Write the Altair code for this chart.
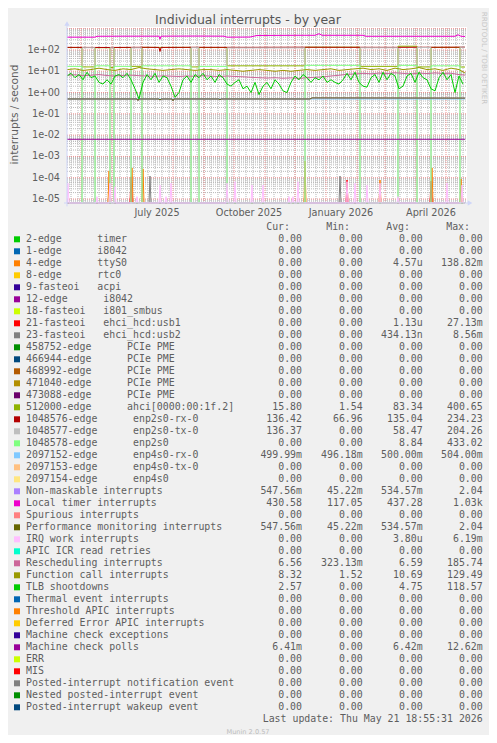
import altair as alt
import pandas as pd

# ---------------- frame / labels ----------------
START = pd.Timestamp("2025-04-17")          # left edge of the plot (day 0)
X_DOMAIN = [0, 400]                          # days
Y_DOMAIN = [6.5e-6, 1200]                    # interrupts / second (log)
TITLE = "Individual interrupts - by year"
Y_TITLE = "interrupts / second"
XLABEL_DATES = ["2025-07-16", "2025-10-16", "2026-01-16", "2026-04-16"]
XLABEL_TEXT = ["July 2025", "October 2025", "January 2026", "April 2026"]
YLABEL_VALUES = [1e-05, 1e-04, 1e-03, 1e-02, 1e-01, 1e+00, 1e+01, 1e+02]
YLABEL_TEXT = ["1e-05", "1e-04", "1e-03", "1e-02", "1e-01", "1e+00", "1e+01", "1e+02"]
LAST_UPDATE = "Last update: Thu May 21 18:55:31 2026"
MUNIN = "Munin 2.0.57"
RRD = "RRDTOOL / TOBI OETIKER"

# ---------------- series (day offset, value) ----------------
GRID4_DAYS = list(range(0, 400, 4))
TLB = [6, 8, 5, 7, 4, 9, 5, 6,
       3, 2.5, 4, 2.5, 6, 7, 5, 8,
       4, 1.5, 0.5, 3, 7, 4, 8, 3,
       6, 5, 2, 0.6, 1, 4, 6, 3,
       7, 5, 8, 4, 6, 3, 7, 5,
       2.5, 2, 3, 4, 1.5, 2, 1, 3,
       0.8, 2, 3, 1.5, 4, 2.5, 1.2, 1,
       3, 6, 4, 7, 5, 3, 5, 4,
       6, 3, 4, 3, 2.5, 4, 8, 4,
       9, 3, 2, 1.8, 5, 7, 3, 9,
       4, 8, 6, 1.5, 2, 6, 8, 3,
       9, 5, 4, 1.5, 1.2, 5, 9, 4,
       7, 1, 6, 2.5]

GRID8_DAYS = list(range(0, 393, 8)) + [398]
FUNC_CALL = [12, 13, 11, 12, 14, 12, 11, 13, 12, 15,
             13, 12, 11, 12, 13, 12, 11, 12, 12, 11,
             12, 11, 10, 11, 12, 11, 10, 11, 10, 11,
             12, 11, 12, 13, 11, 12, 13, 14, 12, 13,
             11, 14, 12, 13, 15, 12, 13, 11, 14, 12, 8.3]
RESCHED = [6.5, 6.8, 6.2, 6.5, 7.0, 6.3, 6.0, 6.4, 6.6, 6.2,
           6.0, 5.8, 6.1, 5.9, 5.7, 6.0, 5.8, 6.2, 5.9, 5.6,
           6.0, 5.7, 5.5, 5.2, 5.0, 4.8, 5.0, 4.7, 4.9, 4.6,
           5.0, 5.2, 5.5, 6.0, 6.5, 7.2, 7.5, 8.0, 7.6, 8.2,
           7.8, 8.5, 8.0, 7.5, 8.2, 7.8, 8.4, 7.9, 8.1, 7.0, 6.6]

LOCAL_TIMER_DAYS = [0, 28, 30, 60, 92, 93, 94, 130, 157, 160, 183, 190, 230, 248, 252, 255, 296, 299, 388, 391, 394, 398]
LOCAL_TIMER = [400, 400, 440, 445, 445, 320, 445, 450, 445, 400, 405, 480, 490, 490, 580, 490, 490, 440, 440, 520, 440, 430]

PERF_DAYS = [0, 70, 71, 72, 92, 93, 94, 105, 106, 107, 152, 153, 154, 243, 245, 398]
PERF = [0.5, 0.5, 0.42, 0.5, 0.5, 0.44, 0.5, 0.5, 0.41, 0.5, 0.5, 0.46, 0.5, 0.5, 0.56, 0.55]

ENP4_RX_DAYS = [0, 398]
ENP4_RX = [0.5, 0.5]
MC_POLLS_DAYS = [0, 398]
MC_POLLS = [0.0064, 0.0064]

RX_DAYS = [0, 40, 80, 92, 93, 94, 130, 180, 230, 280, 330, 380, 398]
RX = [133, 131, 134, 132, 85, 132, 134, 133, 135, 134, 133, 135, 136]

# link periods (square wave), level held over [start, next start]
PERIOD_START = [0, 15, 28, 43, 47, 64, 75, 124, 132, 160, 238, 293, 331, 350, 364, 393]
AHCI_LEVEL = [130, 16, 128, 15, 130, 17, 132, 16, 130, 18, 135, 17, 150, 16, 132, 15.8]
TX_LEVEL = [0, 128, 0, 127, 0, 126, 0, 128, 0, 125, 0, 127, 0, 130, 0, 136]
ENP2S0_LEVEL = [17, 0, 18, 0, 17, 0, 18, 0, 17, 0, 19, 0, 19, 0, 18, 0]

# short bursts near the bottom
IRQ_WORK_DAYS = [1, 30, 43, 48, 70, 93, 99, 104, 160, 168, 185, 196, 222, 226, 231, 280, 288, 300, 313, 331, 380, 395]
IRQ_WORK = [5.5e-5, 1.3e-5, 5.5e-5, 3.8e-5, 1.3e-5, 4.5e-5, 1.3e-5, 5.5e-5, 5.5e-5, 6.5e-5, 4.5e-5,
            4.5e-5, 1.3e-5, 1.3e-5, 6.5e-5, 6.5e-5, 5.5e-5, 4.5e-5, 5.5e-5, 1.3e-5, 5.5e-5, 4.5e-5]
TTYS0_DAYS = [42, 65, 76, 238, 313, 365, 394]
TTYS0 = [2.1e-4, 2.9e-4, 2.6e-4, 6.1e-4, 7.8e-5, 2.9e-4, 8.7e-5]
USB1_DAYS = [64, 280, 364]
USB1 = [1.1e-4, 7.8e-5, 7.0e-5]
USB2_DAYS = [83, 273]
USB2 = [1.2e-4, 1.2e-4]
END_DAY = 398

# ---------------- legend ----------------
NAMES = [
    "2-edge      timer", "1-edge      i8042", "4-edge      ttyS0", "8-edge      rtc0",
    "9-fasteoi   acpi", "12-edge      i8042", "18-fasteoi   i801_smbus",
    "21-fasteoi   ehci_hcd:usb1", "23-fasteoi   ehci_hcd:usb2",
    "458752-edge      PCIe PME", "466944-edge      PCIe PME", "468992-edge      PCIe PME",
    "471040-edge      PCIe PME", "473088-edge      PCIe PME", "512000-edge      ahci[0000:00:1f.2]",
    "1048576-edge      enp2s0-rx-0", "1048577-edge      enp2s0-tx-0", "1048578-edge      enp2s0",
    "2097152-edge      enp4s0-rx-0", "2097153-edge      enp4s0-tx-0", "2097154-edge      enp4s0",
    "Non-maskable interrupts", "Local timer interrupts", "Spurious interrupts",
    "Performance monitoring interrupts", "IRQ work interrupts", "APIC ICR read retries",
    "Rescheduling interrupts", "Function call interrupts", "TLB shootdowns",
    "Thermal event interrupts", "Threshold APIC interrupts", "Deferred Error APIC interrupts",
    "Machine check exceptions", "Machine check polls", "ERR", "MIS",
    "Posted-interrupt notification event", "Nested posted-interrupt event",
    "Posted-interrupt wakeup event",
]
COLORS = [
    "#00CC00", "#0066B3", "#FF8000", "#FFCC00", "#330099", "#990099", "#CCFF00", "#FF0000",
    "#808080", "#008F00", "#00487D", "#B35A00", "#B38F00", "#6B006B", "#8FB300", "#B30000",
    "#BEBEBE", "#80FF80", "#80C9FF", "#FFC080", "#FFE680", "#AA80FF", "#EE00CC", "#FF8080",
    "#666600", "#FFBFFF", "#00FFCC", "#CC6699", "#999900", "#00CC00", "#0066B3", "#FF8000",
    "#FFCC00", "#330099", "#990099", "#CCFF00", "#FF0000", "#808080", "#008F00", "#00487D",
]
Z = "0.00"
CUR = [Z, Z, Z, Z, Z, Z, Z, Z, Z, Z, Z, Z, Z, Z, "15.80", "136.42", "136.37", Z, "499.99m", Z,
       Z, "547.56m", "430.58", Z, "547.56m", Z, Z, "6.56", "8.32", "2.57", Z, Z, Z, Z, "6.41m",
       Z, Z, Z, Z, Z]
MIN = [Z, Z, Z, Z, Z, Z, Z, Z, Z, Z, Z, Z, Z, Z, "1.54", "66.96", Z, Z, "496.18m", Z,
       Z, "45.22m", "117.05", Z, "45.22m", Z, Z, "323.13m", "1.52", Z, Z, Z, Z, Z, Z,
       Z, Z, Z, Z, Z]
AVG = [Z, Z, "4.57u", Z, Z, Z, Z, "1.13u", "434.13n", Z, Z, Z, Z, Z, "83.34", "135.04", "58.47",
       "8.84", "500.00m", Z, Z, "534.57m", "437.28", Z, "534.57m", "3.80u", Z, "6.59", "10.69",
       "4.75", Z, Z, Z, Z, "6.42m", Z, Z, Z, Z, Z]
MAX = [Z, Z, "138.82m", Z, Z, Z, Z, "27.13m", "8.56m", Z, Z, Z, Z, Z, "400.65", "234.23",
       "204.26", "433.02", "504.00m", Z, Z, "2.04", "1.03k", Z, "2.04", "6.19m", Z, "185.74",
       "129.49", "118.57", Z, Z, Z, Z, "12.62m", Z, Z, Z, Z, Z]

# ---------------- styling ----------------
TXT = "#5E5E5E"
MONO = "DejaVu Sans Mono"
SANS = "DejaVu Sans"
NB = "\u00a0"

XS = alt.Scale(domain=X_DOMAIN, range=[59, 459], nice=False, zero=False)
YS = alt.Scale(type="log", domain=Y_DOMAIN, range=[195, 19], nice=False, clamp=True)
YS_FREE = alt.Scale(type="log", domain=Y_DOMAIN, range=[195, 19], nice=False)
RS = alt.Scale(domain=[0, 39], range=[231.3, 699.3], nice=False, zero=False)


def day_of(s):
    return (pd.Timestamp(s) - START).days


def line_df(days, vals):
    return pd.DataFrame({"d": list(days), "v": list(vals), "seq": list(range(len(days)))})


def step_df(starts, levels, end_day):
    ends = list(starts[1:]) + [end_day]
    d, v = [], []
    for s, e, lv in zip(starts, ends, levels):
        d += [s, e]
        v += [lv, lv]
    return line_df(d, v)


def spike_df(days, vals, end_day):
    d, v = [0], [0]
    for dd, vv in zip(days, vals):
        d += [max(dd - 1, 0), dd, dd + 1]
        v += [0, vv, 0]
    d.append(end_day)
    v.append(0)
    return line_df(d, v)


def series_layer(df, color):
    return alt.Chart(df).transform_calculate(
        vp="max(datum.v, 1e-9)"
    ).mark_line(color=color, strokeWidth=1, interpolate="linear").encode(
        x=alt.X("d:Q", scale=XS, axis=None),
        y=alt.Y("vp:Q", scale=YS, axis=None),
        order=alt.Order("seq:Q"),
    )


# ---- plot background and grid ----
bg_df = pd.DataFrame({"x0": [X_DOMAIN[0]], "x1": [X_DOMAIN[1]], "y0": [Y_DOMAIN[0]], "y1": [Y_DOMAIN[1]]})
bg = alt.Chart(bg_df).mark_rect(color="#FFFFFF").encode(
    x=alt.X("x0:Q", scale=XS, axis=None), x2="x1:Q",
    y=alt.Y("y0:Q", scale=YS, axis=None), y2="y1:Q")

h_minor_vals = [k * 10.0 ** e for e in range(-6, 4) for k in range(2, 10)
                if Y_DOMAIN[0] < k * 10.0 ** e < Y_DOMAIN[1]]
h_major_vals = [10.0 ** e for e in range(-5, 4) if 10.0 ** e < Y_DOMAIN[1]]
month_days = [day_of(m) for m in pd.date_range("2025-05-01", "2026-05-01", freq="MS")]
week_days = [day_of(w) for w in pd.date_range("2025-04-21", "2026-05-21", freq="7D")]


def hgrid(vals, color):
    df = pd.DataFrame({"y": vals, "x0": X_DOMAIN[0], "x1": X_DOMAIN[1]})
    return alt.Chart(df).mark_rule(color=color, strokeWidth=1, strokeDash=[1, 1]).encode(
        x=alt.X("x0:Q", scale=XS, axis=None), x2="x1:Q",
        y=alt.Y("y:Q", scale=YS, axis=None))


def vgrid(days, color):
    df = pd.DataFrame({"d": days, "y0": Y_DOMAIN[0], "y1": Y_DOMAIN[1]})
    return alt.Chart(df).mark_rule(color=color, strokeWidth=1, strokeDash=[1, 1]).encode(
        x=alt.X("d:Q", scale=XS, axis=None),
        y=alt.Y("y0:Q", scale=YS, axis=None), y2="y1:Q")


grid = [hgrid(h_minor_vals, "#B8B8B8"), vgrid(week_days, "#B8B8B8"),
        hgrid(h_major_vals, "#EB9090"), vgrid(month_days, "#EB9090")]

series = [
    (spike_df(TTYS0_DAYS, TTYS0, END_DAY), COLORS[2]),
    (spike_df(USB1_DAYS, USB1, END_DAY), COLORS[7]),
    (spike_df(USB2_DAYS, USB2, END_DAY), COLORS[8]),
    (step_df(PERIOD_START, AHCI_LEVEL, END_DAY), COLORS[14]),
    (line_df(RX_DAYS, RX), COLORS[15]),
    (step_df(PERIOD_START, TX_LEVEL, END_DAY), COLORS[16]),
    (step_df(PERIOD_START, ENP2S0_LEVEL, END_DAY), COLORS[17]),
    (line_df(ENP4_RX_DAYS, ENP4_RX), COLORS[18]),
    (line_df(PERF_DAYS, PERF), COLORS[21]),
    (line_df(LOCAL_TIMER_DAYS, LOCAL_TIMER), COLORS[22]),
    (line_df(PERF_DAYS, PERF), COLORS[24]),
    (spike_df(IRQ_WORK_DAYS, IRQ_WORK, END_DAY), COLORS[25]),
    (line_df(GRID8_DAYS, RESCHED), COLORS[27]),
    (line_df(GRID8_DAYS, FUNC_CALL), COLORS[28]),
    (line_df(GRID4_DAYS, TLB), COLORS[29]),
    (line_df(MC_POLLS_DAYS, MC_POLLS), COLORS[34]),
]
lines = [series_layer(df, c) for df, c in series]

# tick labels
xl_df = pd.DataFrame({"d": [day_of(s) for s in XLABEL_DATES], "t": XLABEL_TEXT})
xlabels = alt.Chart(xl_df).mark_text(font=SANS, fontSize=9.7, color=TXT, baseline="middle",
                                     align="center").encode(
    x=alt.X("d:Q", scale=XS, axis=None), y=alt.value(204.7), text="t:N")
yl_df = pd.DataFrame({"v": YLABEL_VALUES, "t": YLABEL_TEXT})
ylabels = alt.Chart(yl_df).mark_text(font=SANS, fontSize=9.7, color=TXT, baseline="middle",
                                     align="right").encode(
    x=alt.value(52), y=alt.Y("v:Q", scale=YS, axis=None), text="t:N")

main = alt.layer(bg, *grid, *lines, xlabels, ylabels)

# axis lines with arrows (light blue)
AX = "#CFD6F8"
ax_df = pd.DataFrame({"x0": [-3], "x1": [401], "y": [Y_DOMAIN[0]]})
x_axis = alt.Chart(ax_df).mark_rule(color=AX, strokeWidth=1).encode(
    x=alt.X("x0:Q", scale=XS, axis=None), x2="x1:Q",
    y=alt.Y("y:Q", scale=YS_FREE, axis=None))
ay_df = pd.DataFrame({"d": [0], "y0": [4.5e-6], "y1": [1500]})
y_axis = alt.Chart(ay_df).mark_rule(color=AX, strokeWidth=1).encode(
    x=alt.X("d:Q", scale=XS, axis=None),
    y=alt.Y("y0:Q", scale=YS_FREE, axis=None), y2="y1:Q")
arr_r = alt.Chart(pd.DataFrame({"d": [403], "y": [Y_DOMAIN[0]]})).mark_point(
    shape="triangle-right", filled=True, size=28, color=AX, opacity=1).encode(
    x=alt.X("d:Q", scale=XS, axis=None), y=alt.Y("y:Q", scale=YS_FREE, axis=None))
arr_u = alt.Chart(pd.DataFrame({"d": [0], "y": [1750]})).mark_point(
    shape="triangle-up", filled=True, size=28, color=AX, opacity=1).encode(
    x=alt.X("d:Q", scale=XS, axis=None), y=alt.Y("y:Q", scale=YS_FREE, axis=None))
deco_axes = alt.layer(x_axis, y_axis, arr_r, arr_u)


# legend table
def fmt(s):
    return s if s[-1].isalpha() else s + NB


leg_df = pd.DataFrame({
    "row": list(range(len(NAMES))),
    "name": [n.replace(" ", NB) for n in NAMES],
    "color": COLORS,
    "cur": [fmt(s) for s in CUR], "min": [fmt(s) for s in MIN],
    "avg": [fmt(s) for s in AVG], "max": [fmt(s) for s in MAX],
})
LY = alt.Y("row:Q", scale=RS, axis=None)
squares = alt.Chart(leg_df).mark_square(size=36, filled=True, opacity=1).encode(
    x=alt.value(9), y=LY, color=alt.Color("color:N", scale=None, legend=None))


def leg_text(field, xpos, align):
    return alt.Chart(leg_df).mark_text(font=MONO, fontSize=9.9, color=TXT, align=align,
                                       baseline="middle").encode(
        x=alt.value(xpos), y=LY, text=f"{field}:N")


names = leg_text("name", 18, "left")
cols = [leg_text("cur", 294, "right"), leg_text("min", 354.7, "right"),
        leg_text("avg", 414.7, "right"), leg_text("max", 474.7, "right")]

HEAD = ["Cur:", "Min:", "Avg:", "Max:"]
HEAD_X = [282, 342, 402, 462]
heads = [alt.Chart(pd.DataFrame({"row": [-1], "t": [h]})).mark_text(
    font=MONO, fontSize=9.9, color=TXT, align="right", baseline="middle").encode(
    x=alt.value(hx), y=LY, text="t:N") for h, hx in zip(HEAD, HEAD_X)]
last = alt.Chart(pd.DataFrame({"row": [40], "t": [LAST_UPDATE]})).mark_text(
    font=MONO, fontSize=9.9, color=TXT, align="right", baseline="middle").encode(
    x=alt.value(474.7), y=LY, text="t:N")
legend = alt.layer(squares, names, *cols, *heads, last)

# free texts
one = pd.DataFrame({"t": [0]})
title = alt.Chart(one).mark_text(text=TITLE, font=SANS, fontSize=12.5, color="#555555",
                                 align="center", baseline="middle").encode(
    x=alt.value(240), y=alt.value(11.5))
ytitle = alt.Chart(one).mark_text(text=Y_TITLE, font=SANS, fontSize=10.6, color=TXT, angle=270,
                                  align="center", baseline="middle").encode(
    x=alt.value(6.5), y=alt.value(106.5))
rrd = alt.Chart(one).mark_text(text=RRD, font=SANS, fontSize=7.2, color="#C8C8C8", angle=90,
                               align="center", baseline="middle").encode(
    x=alt.value(476), y=alt.value(50))
munin = alt.Chart(one).mark_text(text=MUNIN, font=SANS, fontSize=6.6, color="#BDBDBD",
                                 align="center", baseline="middle").encode(
    x=alt.value(240), y=alt.value(724))
texts = alt.layer(title, ytitle, rrd, munin)

chart = alt.layer(main, deco_axes, legend, texts).resolve_scale(
    y="independent"
).properties(
    width=481, height=727, padding=0,
    autosize=alt.AutoSizeParams(type="none"),
).configure(background="#F0F0F0").configure_view(stroke=None)

chart.save("out.html", embed_options={"renderer": "svg", "actions": False})
